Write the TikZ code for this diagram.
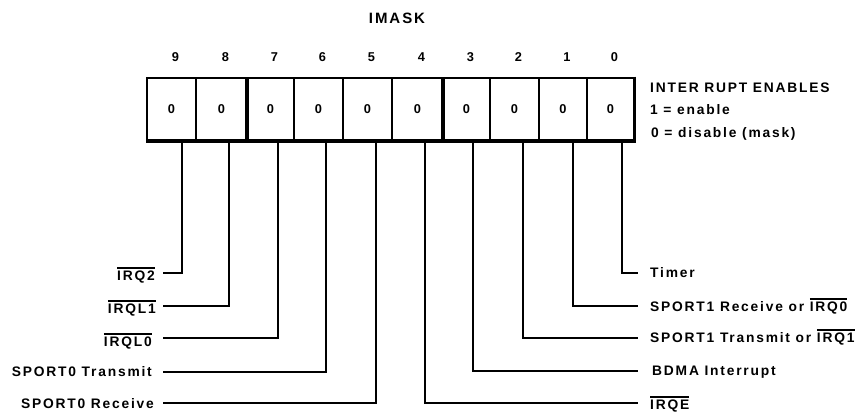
\documentclass[tikz,border=0pt]{standalone}
\usepackage{fontspec}
\setmainfont{Liberation Sans}
\newfontfamily\labfont{Liberation Sans}[LetterSpace=13]
\newcommand{\ovl}[1]{\leavevmode\vbox{\hrule height 1.3pt \kern 2.6pt \hbox{#1}}}
\tikzset{
  lbl/.style={font=\labfont\bfseries\fontsize{13.8}{15}\selectfont, inner sep=0pt, text height=9.8pt, text depth=0pt},
  digit/.style={font=\labfont\bfseries\fontsize{12.8}{14}\selectfont, inner sep=0pt},
  wire/.style={line width=1.7pt},
  wirebold/.style={line width=2.7pt},
  thinrule/.style={line width=1.2pt},
  thickrule/.style={line width=4.5pt}
}
\begin{document}
\begin{tikzpicture}[x=1pt,y=-1pt]
\useasboundingbox (0,0) rectangle (859,415);
% title
\node[digit, font=\labfont\bfseries\fontsize{15}{17}\selectfont] (title) at (397,18) {IMASK};
% register box
\draw[thinrule] (147,78) -- (147,141);
\foreach \x in {196,294,343,392,490,539,587} \draw[thinrule] (\x,78) -- (\x,141);
\foreach \x in {247,443} \draw[thickrule] (\x,78) -- (\x,141);
\draw[line width=1.8pt] (146.4,78) -- (635.5,78);
\draw[line width=3pt] (634,76.5) -- (634,142);
\draw[line width=3.6pt] (146.4,141) -- (635.5,141);
% bit numbers and values
\foreach \n/\cx/\bx in {9/171.5/182, 8/221.5/229, 7/270.5/278, 6/318.5/326, 5/367.5/376, 4/417.5/425, 3/466.5/473, 2/514.5/523, 1/563/573, 0/610.5/622} {
  \node[digit] (n\n) at (\cx+4,57) {\n};
  \node[digit] (c\n) at (\cx,109) {0};
  \coordinate (b\n) at (\bx,141);
}
% legend
\node[lbl, anchor=west] (leg1) at (650,88) {INTER RUPT ENABLES};
\node[lbl, anchor=west] (leg2) at (650,110) {1 = enable};
\node[lbl, anchor=west] (leg3) at (651,133) {0 = disable (mask)};
% left labels
\node[lbl, anchor=east] (l9) at (155,276) {\ovl{IRQ2}};
\node[lbl, anchor=east] (l8) at (156,309) {\ovl{IRQL1}};
\node[lbl, anchor=east] (l7) at (152,342) {\ovl{IRQL0}};
\node[lbl, anchor=east] (l6) at (152,372) {SPORT0 Transmit};
\node[lbl, anchor=east] (l5) at (154,404) {SPORT0 Receive};
% right labels
\node[lbl, anchor=west] (l0) at (650,273) {Timer};
\node[lbl, anchor=west] (l1) at (650,307) {SPORT1 Receive or \ovl{IRQ0}};
\node[lbl, anchor=west] (l2) at (650,338) {SPORT1 Transmit or \ovl{IRQ1}};
\node[lbl, anchor=west] (l3) at (652,371) {BDMA Interrupt};
\node[lbl, anchor=west] (l4) at (650,405) {\ovl{IRQE}};
% leaders
\coordinate (e9) at (163,273);
\coordinate (e8) at (163,306);
\coordinate (e7) at (163,338);
\coordinate (e6) at (163,372);
\coordinate (e5) at (163,403);
\coordinate (e0) at (638,273);
\coordinate (e1) at (638,306);
\coordinate (e2) at (638,338);
\coordinate (e3) at (638,371);
\coordinate (e4) at (638,403);
\draw[wirebold] (b9) |- (e9);
\draw[wire] (b8) |- (e8);
\draw[wirebold] (b7) |- (e7);
\draw[wire] (b6) |- (e6);
\draw[wire] (b5) |- (e5);
\draw[wire] (b4) |- (e4);
\draw[wirebold] (b3) |- (e3);
\draw[wirebold] (b2) |- (e2);
\draw[wire] (b1) |- (e1);
\draw[wire] (b0) |- (e0);
\end{tikzpicture}
\end{document}
